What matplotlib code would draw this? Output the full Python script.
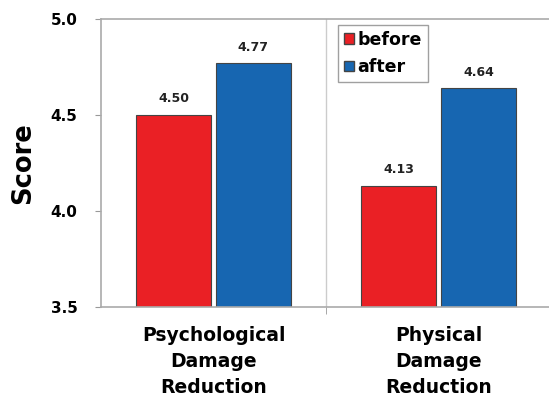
import numpy as np
import matplotlib.pyplot as plt
from matplotlib.patches import Rectangle

categories = ['Psychological\nDamage\nReduction', 'Physical\nDamage\nReduction']
before = [4.50, 4.13]
after = [4.77, 4.64]
yticks = [3.5, 4.0, 4.5, 5.0]

red = '#ea2025'
blue = '#1766b1'

fig = plt.figure(figsize=(5.49, 3.97), dpi=100)
ax = fig.add_axes([101 / 549, 1 - 307 / 397, 450 / 549, 288 / 397])

x = np.arange(len(categories))
w = 0.335
b1 = ax.bar(x - w / 2 - 0.01, np.array(before) - 3.5, w, bottom=3.5,
            color=red, edgecolor='#444444', linewidth=0.8)
b2 = ax.bar(x + w / 2 + 0.01, np.array(after) - 3.5, w, bottom=3.5,
            color=blue, edgecolor='#444444', linewidth=0.8)

# value labels over each bar
for bars, vals in ((b1, before), (b2, after)):
    for r, v in zip(bars, vals):
        ax.text(r.get_x() + r.get_width() / 2, v + 0.05, f'{v:.2f}',
                ha='center', va='bottom', fontsize=9, fontweight='bold',
                color='#222222')

ax.set_xlim(-0.5, 1.5)
ax.set_ylim(3.5, 5.0)
ax.set_yticks(yticks)
ax.set_yticklabels([f'{t:.1f}' for t in yticks], fontsize=11,
                   fontweight='bold', va='top')
for lbl in ax.get_yticklabels():
    lbl.set_verticalalignment('center_baseline')
ax.set_xticks(x)
ax.set_xticklabels(categories, fontsize=13.5, fontweight='bold',
                   linespacing=1.45)
ax.tick_params(axis='x', length=0, pad=14)
ax.set_xticks([0.5], minor=True)
ax.tick_params(axis='x', which='minor', length=5, color='#999999')
ax.tick_params(axis='y', length=4, color='#999999', pad=13)
ax.axvline(0.5, color='#cccccc', linewidth=1)

for s in ['left', 'bottom', 'top']:
    ax.spines[s].set_color('#aaaaaa')
    ax.spines[s].set_linewidth(1.2)
ax.spines['right'].set_visible(False)

ax.set_ylabel('Score', fontsize=18.5, fontweight='bold', labelpad=10)

handles = [Rectangle((0, 0), 1, 1, facecolor=red, edgecolor='#444444'),
           Rectangle((0, 0), 1, 1, facecolor=blue, edgecolor='#444444')]
leg = ax.legend(handles, ['before', 'after'], loc='upper left',
                bbox_to_anchor=(0.527, 0.98), fancybox=False,
                handlelength=0.55, handleheight=0.55, handletextpad=0.2,
                borderpad=0.35, labelspacing=0.55, borderaxespad=0,
                prop={'size': 12.5, 'weight': 'bold'})
leg.get_frame().set_edgecolor('#888888')
leg.get_frame().set_linewidth(1)

fig.savefig('out.png', dpi=100)
